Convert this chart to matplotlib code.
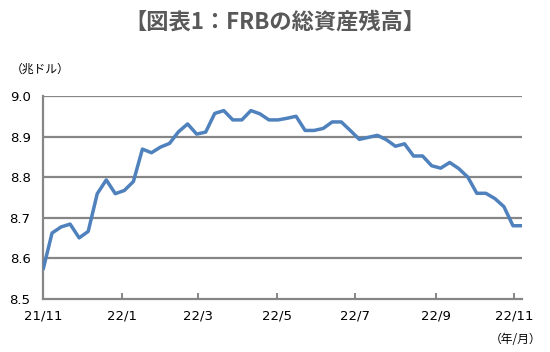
import matplotlib
matplotlib.use("Agg")
import matplotlib.pyplot as plt
import matplotlib.dates as mdates
import pandas as pd
import numpy as np

plt.rcParams['font.family'] = ['DejaVu Sans', 'Noto Sans CJK JP']

# Weekly FRB total assets (trillion USD), Wednesdays from 2021-11-03
start_date = "2021-11-03"
values = [8.571, 8.662, 8.677, 8.684, 8.650, 8.666, 8.759, 8.793, 8.759, 8.767,
          8.789, 8.869, 8.860, 8.874, 8.883, 8.912, 8.931, 8.906, 8.911, 8.957,
          8.964, 8.941, 8.941, 8.964, 8.956, 8.941, 8.941, 8.945, 8.950, 8.915,
          8.915, 8.920, 8.936, 8.936, 8.915, 8.893, 8.898, 8.903, 8.892, 8.876,
          8.882, 8.852, 8.852, 8.828, 8.822, 8.836, 8.821, 8.800, 8.760, 8.760,
          8.747, 8.727, 8.680, 8.680]
tick_dates = ["2021-11-03", "2022-01-03", "2022-03-03", "2022-05-03",
              "2022-07-03", "2022-09-03", "2022-11-03"]
tick_labels = ["21/11", "22/1", "22/3", "22/5", "22/7", "22/9", "22/11"]
y_ticks = [8.5, 8.6, 8.7, 8.8, 8.9, 9.0]
y_labels = ["8.5", "8.6", "8.7", "8.8", "8.9", "9.0"]

title = "【図表1：FRBの総資産残高】"
unit_label = "（兆ドル）"
x_unit_label = "（年/月）"

dates = pd.date_range(start_date, periods=len(values), freq="7D")

fig = plt.figure(figsize=(5.5, 3.52), dpi=100)
ax = fig.add_axes([0.0782, 0.1514, 0.8709, 0.5759])

grid_col = "#868686"
line_col = "#4F81BD"

for yv in y_ticks[1:]:
    ax.axhline(yv, color=grid_col, lw=1.6, zorder=1)

ax.plot(dates, values, color=line_col, lw=2.5, solid_joinstyle="round",
        solid_capstyle="butt", zorder=3)

ax.set_xlim(dates[0], dates[-1])
ax.set_ylim(8.5, 9.0)
ax.set_yticks(y_ticks)
ax.set_yticklabels(y_labels)
tdates = pd.to_datetime(tick_dates)
ax.set_xticks(tdates)
ax.set_xticklabels(tick_labels)

for s in ["top", "right"]:
    ax.spines[s].set_visible(False)
for s in ["left", "bottom"]:
    ax.spines[s].set_color(grid_col)
    ax.spines[s].set_linewidth(1.6)

ax.tick_params(axis="x", direction="in", length=4, width=1.4, color=grid_col,
               labelsize=9.5, pad=8, labelcolor="#000000")
ax.tick_params(axis="y", length=0, labelsize=9.5, pad=9, labelcolor="#000000")

fig.text(0.5, 0.937, title, ha="center", va="center", fontsize=16,
         fontweight="bold", color="#595959",
         family=["Noto Sans CJK JP", "DejaVu Sans"])
fig.text(0.020, 0.804, unit_label, ha="left", va="center", fontsize=8.5,
         family=["Noto Sans CJK JP", "DejaVu Sans"])
fig.text(0.984, 0.035, x_unit_label, ha="right", va="center", fontsize=8.5,
         family=["Noto Sans CJK JP", "DejaVu Sans"])

fig.savefig("out.png", dpi=100, facecolor="white")
